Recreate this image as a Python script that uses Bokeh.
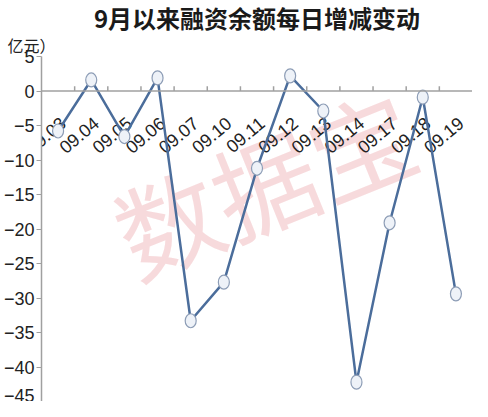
from bokeh.plotting import figure
from bokeh.models import FactorRange, Range1d, Span, Label, FixedTicker, Title
from bokeh.transform import dodge
from bokeh.core.properties import value
from bokeh.embed import file_html
from bokeh.resources import INLINE

TITLE = "9月以来融资余额每日增减变动"
UNIT = "亿元）"
WATERMARK = "数据宝"
dates = ["09.03", "09.04", "09.05", "09.06", "09.07", "09.10", "09.11",
         "09.12", "09.13", "09.14", "09.17", "09.18", "09.19"]
changes = [-5.8, 1.6, -6.6, 1.9, -33.3, -27.7, -11.2, 2.2, -2.9, -42.2, -19.1, -0.9, -29.4]
y_ticks = [5, 0, -5, -10, -15, -20, -25, -30, -35, -40, -45]

p = figure(width=472, height=401, x_range=FactorRange(factors=dates),
           y_range=Range1d(-45, 5), output_backend="svg", toolbar_location=None,
           x_axis_location=None, min_border_top=0, min_border_left=36,
           min_border_right=0, min_border_bottom=0)
p.outline_line_color = None
p.background_fill_color = "white"
p.xgrid.visible = False
p.ygrid.visible = False

ax = p.yaxis[0]
ax.ticker = FixedTicker(ticks=y_ticks)
ax.axis_line_color = "#a0a0a0"
ax.axis_line_width = 1.5
ax.major_tick_line_color = "#a0a0a0"
ax.major_tick_out = 5
ax.major_tick_in = 0
ax.minor_tick_line_color = None
ax.major_label_text_font = "Liberation Sans"
ax.major_label_text_font_size = "18px"
ax.major_label_text_color = "#222222"
ax.major_label_standoff = 2

# watermark
p.add_layout(Label(x=6.7, y=-13.0, text=WATERMARK, angle=22, angle_units="deg",
                   text_align="center", text_baseline="middle",
                   text_font="Noto Sans CJK SC", text_font_size="104px",
                   text_color="#f2c2c4", text_alpha=0.6, level="underlay"))

# zero axis line and ticks
p.add_layout(Span(location=0, dimension="width", line_color="#a0a0a0", line_width=1.5))
p.segment(x0=dodge("d", -0.5, range=p.x_range), y0=0,
          x1=dodge("d", -0.5, range=p.x_range), y1=0.7,
          source=dict(d=dates[1:]), line_color="#a0a0a0", line_width=1.5)

# category labels
p.text(x=dodge("d", 0.15, range=p.x_range), y=-4.3, text="d",
       source=dict(d=dates), angle=40, angle_units="deg",
       text_align="right", text_baseline="middle",
       text_font=value("Liberation Sans"), text_font_size="18px",
       text_color="#222222")

p.line(x=dates, y=changes, line_color="#4b6d9b", line_width=2.5)
p.ellipse(x=dates, y=changes, width=11, height=14,
          width_units="screen", height_units="screen",
          fill_color="#eef2f8", line_color="#8d9db6", line_width=1.2)

p.add_layout(Title(text=UNIT, align="left", offset=-34, standoff=-1,
                   text_font="Noto Sans CJK SC", text_font_size="16px",
                   text_font_style="normal", text_color="#222222"), "above")
p.add_layout(Title(text=TITLE, align="center", standoff=-6,
                   text_font="Noto Sans CJK SC", text_font_size="24px",
                   text_font_style="bold", text_color="#1a1a1a"), "above")

open("out.html", "w").write(file_html(p, INLINE))
